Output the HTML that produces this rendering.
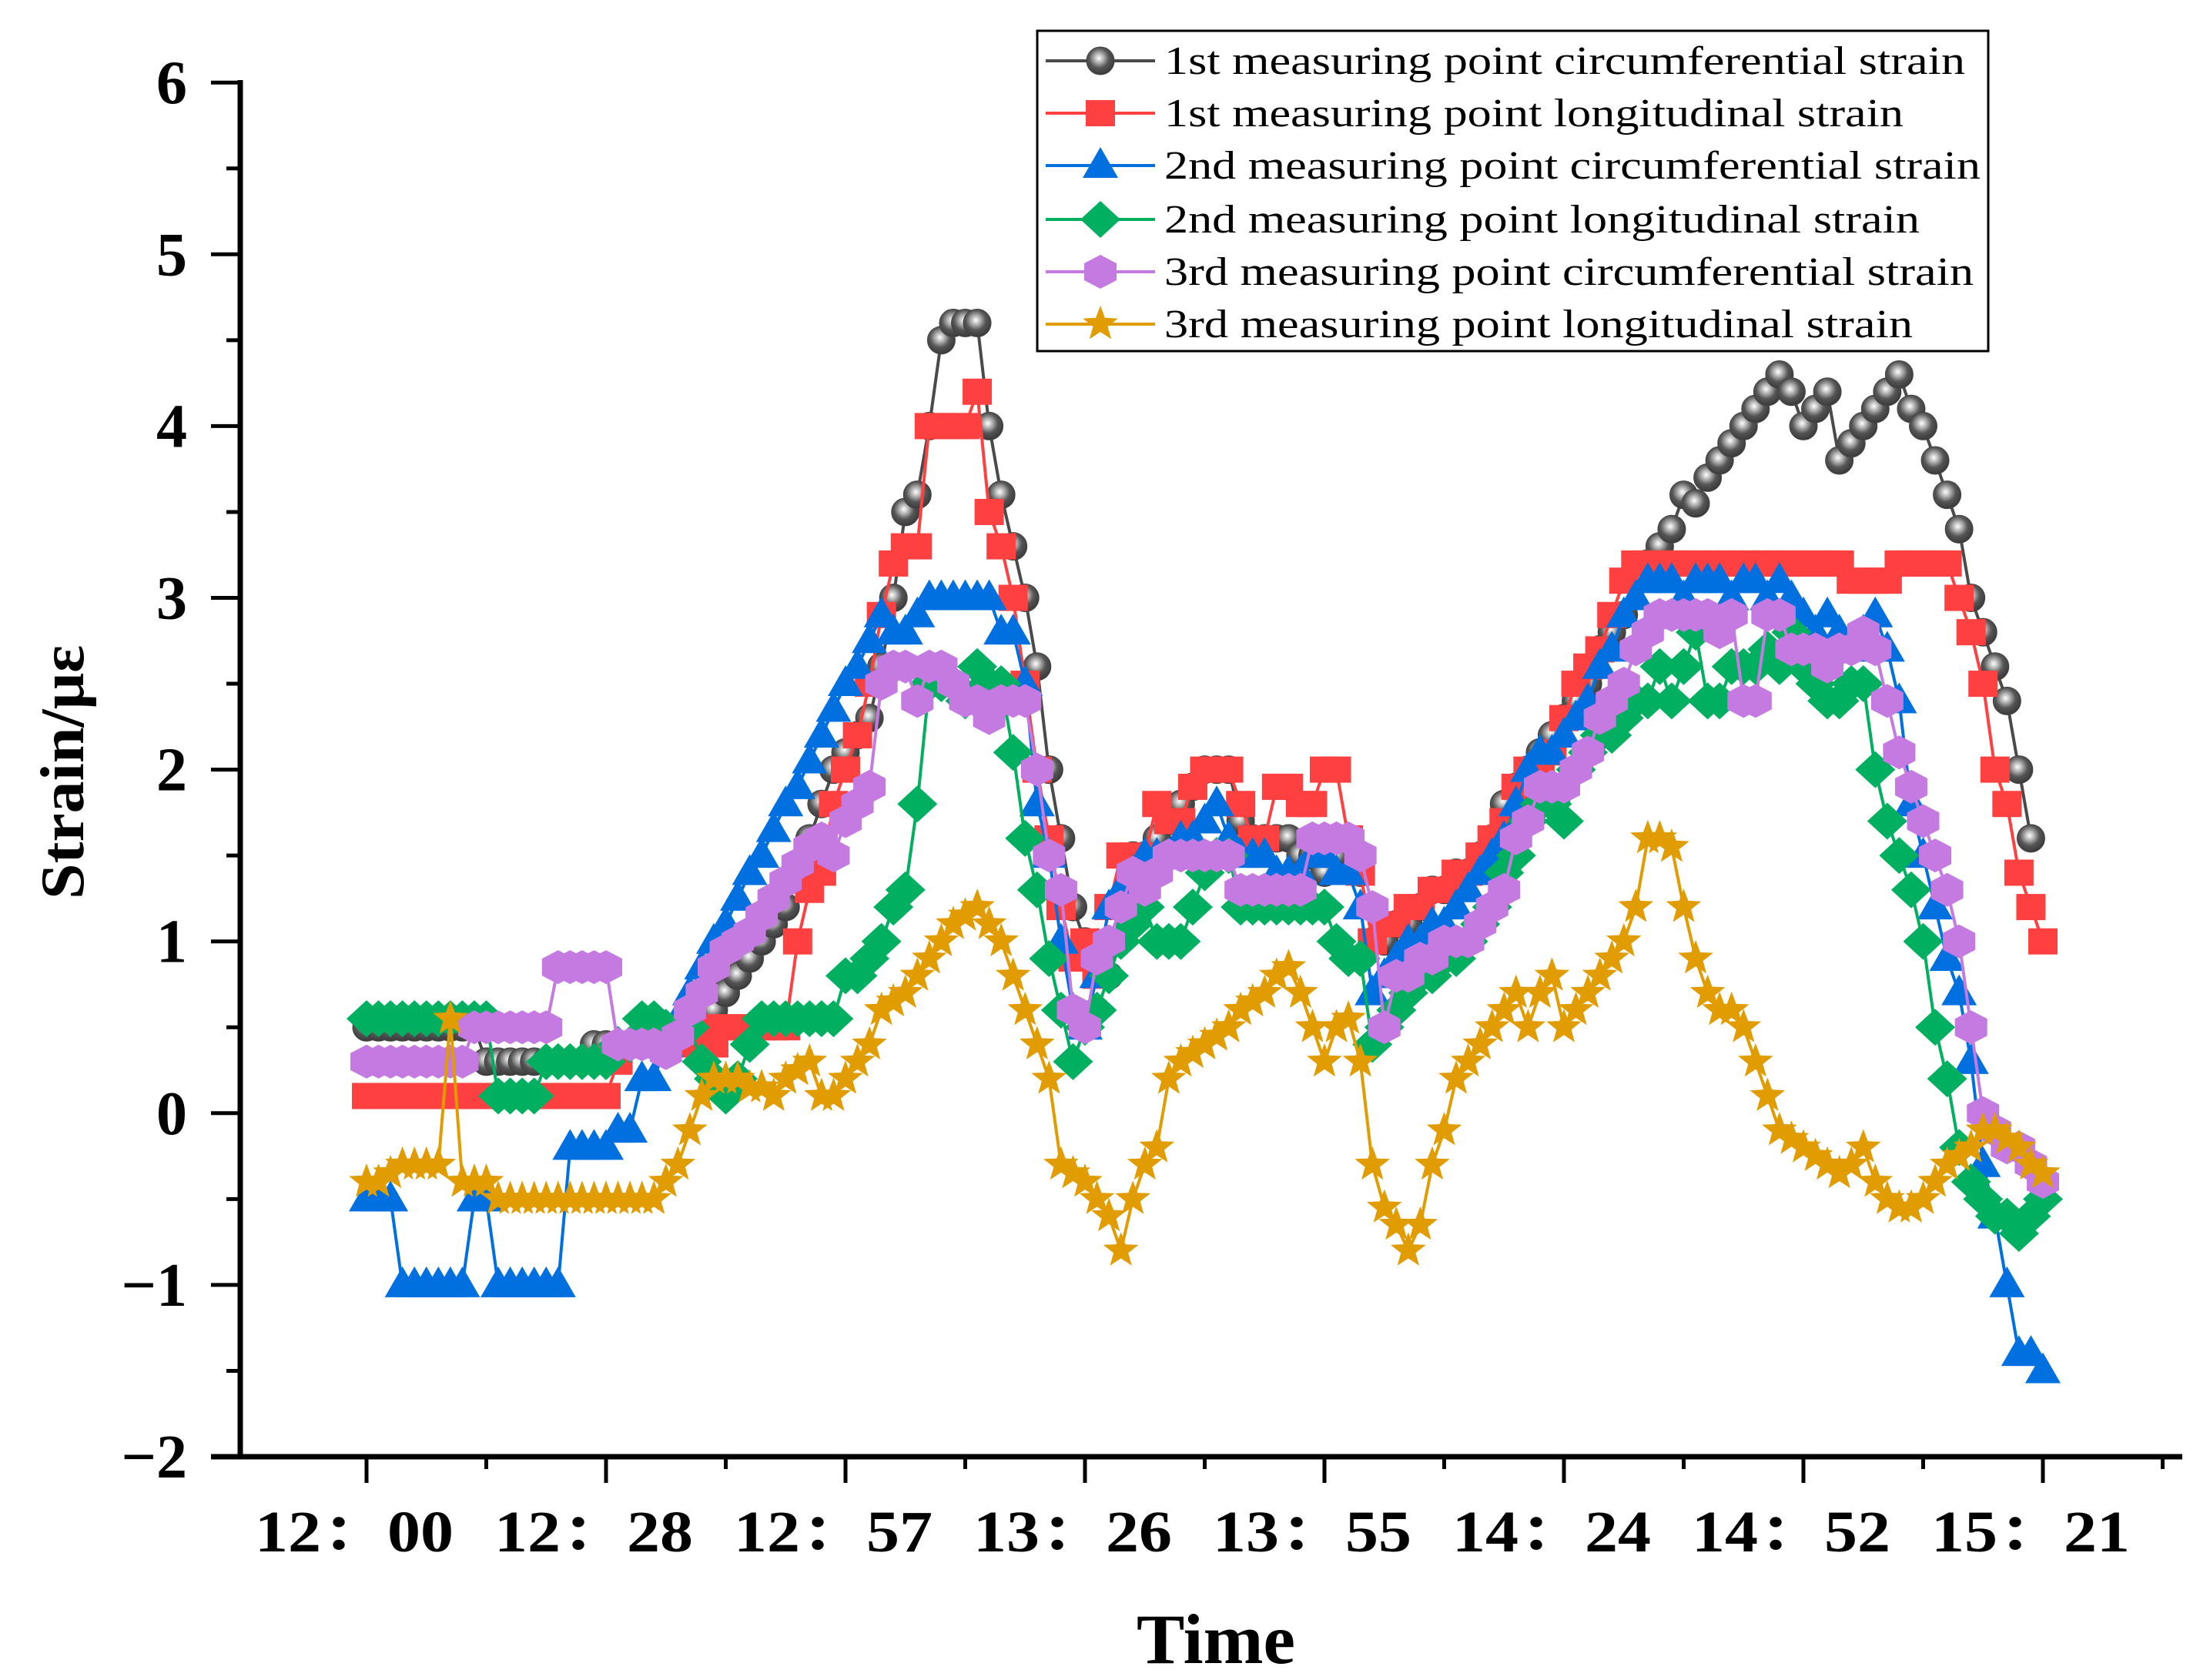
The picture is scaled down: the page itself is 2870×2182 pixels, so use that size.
<!DOCTYPE html>
<html><head><meta charset="utf-8"><style>
html,body{margin:0;padding:0;background:#fff;}
svg{display:block;}
text{font-family:"Liberation Serif","Noto Serif CJK SC","Noto Sans CJK SC",serif;}
</style></head><body>
<svg id="chart" width="2870" height="2182" viewBox="0 0 2870 2182" xmlns="http://www.w3.org/2000/svg">
<defs>
<radialGradient id="ballGrad" cx="0.45" cy="0.4" r="0.6">
<stop offset="0" stop-color="#ffffff"/><stop offset="0.25" stop-color="#bbbbbb"/><stop offset="0.6" stop-color="#555555"/><stop offset="1" stop-color="#3a3a3a"/>
</radialGradient>
</defs>
<g id="axes"></g>
<g id="series"></g>
<g id="legend"></g>
<text x="0" y="0" transform="translate(108,1003) rotate(-90)" text-anchor="middle" font-size="80" font-weight="bold" textLength="330" lengthAdjust="spacingAndGlyphs">Strain/με</text>
<text x="1579" y="2160" text-anchor="middle" font-size="92" font-weight="bold" textLength="206" lengthAdjust="spacingAndGlyphs">Time</text>
</svg>
<script>
const xTickLabels = ["12：00","12：28","12：57","13：26","13：55","14：24","14：52","15：21"];
const yTickValues = [-2,-1,0,1,2,3,4,5,6];
const seriesNames = ["1st measuring point circumferential strain","1st measuring point longitudinal strain","2nd measuring point circumferential strain","2nd measuring point longitudinal strain","3rd measuring point circumferential strain","3rd measuring point longitudinal strain"];
const circ1 = [0.5,0.5,0.5,0.5,0.5,0.5,0.5,0.5,0.5,0.5, 0.3,0.3,0.3,0.3,0.3,0.3,0.3,0.3,0.3, 0.4,0.4,0.4,0.4,0.4, 0.4,0.45,0.5,0.5,0.55,0.6,0.7,0.8,0.9,1.0,1.1,1.2,1.4,1.6,1.8,2.0, 2.1,2.2,2.3,2.6,3.0,3.5,3.6,4.0,4.5,4.6,4.6,4.6,4.0, 3.6,3.3,3.0,2.6,2.0,1.6,1.2,1.0, 0.9,0.8,1.2,1.5, 1.5,1.6,1.7,1.8,1.9,2.0,2.0,2.0, 1.7,1.6,1.6,1.6,1.6,1.5,1.5,1.4, 1.5,1.6,1.4,1.0, 1.0,1.1,1.1,1.2,1.3,1.3,1.4,1.4,1.5,1.6,1.8,1.9,2.0,2.1, 2.2,2.3,2.4,2.5,2.7,2.8,2.9,3.1,3.2,3.3,3.4,3.6, 3.55,3.7,3.8,3.9,4.0,4.1,4.2,4.3,4.2,4.0,4.1,4.2,3.8,3.9,4.0,4.1,4.2,4.3,4.1,4.0,3.8,3.6,3.4,3.0,2.8,2.6,2.4,2.0, 1.6];
const long1 = [0.1,0.1,0.1,0.1,0.1,0.1,0.1,0.1,0.1,0.1,0.1,0.1,0.1,0.1,0.1,0.1,0.1,0.1,0.1,0.1,0.1, 0.3,0.4,0.4,0.4,0.45,0.5, 0.4,0.5,0.4,0.5,0.5,0.5,0.5,0.5,0.5,1.0, 1.3,1.4,1.8,2.0,2.2,2.5,2.9,3.2,3.3,3.3,4.0,4.0,4.0,4.0,4.2,3.5, 3.3,3.0,2.5,2.0,1.6,1.2,0.9,1.0,0.8, 1.2,1.5,1.5,1.5,1.8,1.7,1.7,1.9,2.0,2.0,2.0, 1.8,1.6,1.6,1.9,1.9,1.8,1.8,2.0,2.0,1.6,1.4,1.0, 1.1,1.1,1.2,1.2,1.3,1.3,1.4,1.4,1.5,1.6,1.7,1.9,2.0,2.0,2.1,2.3,2.5,2.6,2.7,2.9,3.1, 3.2,3.2,3.2,3.2,3.2,3.2,3.2,3.2,3.2,3.2,3.2,3.2,3.2,3.2,3.2,3.2,3.2,3.2,3.1,3.1,3.1,3.1, 3.2,3.2,3.2,3.2,3.2,3.0,2.8, 2.5,2.0,1.8,1.4,1.2,1.0];
const circ2 = [-0.5,-0.5,-0.5, -1,-1,-1,-1,-1,-1, -0.5,-0.5, -1,-1,-1,-1,-1,-1, -0.2,-0.2,-0.2,-0.2, -0.1,-0.1, 0.2,0.2, 0.4,0.55,0.7,0.85,1.0,1.1,1.25,1.4,1.5,1.65,1.8,1.9,2.05,2.2,2.35,2.5,2.6,2.75,2.9, 2.8,2.8,2.9,3.0,3.0,3.0,3.0,3.0,3.0,2.8,2.8, 2.5,1.8,1.5,1.0,0.6,0.5,0.8, 1.2,1.3,1.4,1.5,1.5,1.5,1.6,1.6,1.7,1.8,1.6, 1.5,1.5,1.5,1.4,1.4,1.4,1.5,1.5,1.4,1.4,1.2,0.7, 0.8,0.9,1.0,1.0,1.1,1.1,1.2,1.3,1.4,1.5,1.6,1.8,2.0,2.1,2.1,2.2,2.3,2.4,2.6,2.7,2.9,3.0,3.1, 3.1,3.1,3.0,3.1,3.1,3.1,3.0,3.1,3.1,3.0,3.1,3.0,2.9,2.8,2.9,2.8,2.7,2.8,2.9,2.7, 2.4,1.8,1.5,1.2,0.9,0.7,0.3,-0.3,-0.6,-1.0,-1.4,-1.4,-1.5];
const long2 = [0.55,0.55,0.55,0.55,0.55,0.55,0.55,0.55,0.55,0.55,0.55, 0.1,0.1,0.1,0.1, 0.3,0.3,0.3,0.3,0.3,0.3, 0.4,0.4,0.55,0.55, 0.5,0.45,0.5,0.3,0.2,0.1,0.2,0.4, 0.55,0.55,0.55,0.55,0.55,0.55,0.55, 0.8,0.8,0.9,1.0,1.2,1.3,1.8,2.5,2.5,2.5,2.4,2.6,2.5, 2.5,2.1,1.6,1.3,0.9,0.6,0.3,0.5,0.6, 0.8,1.0,1.1,1.2,1.0,1.0,1.0,1.2,1.4,1.5,1.5, 1.2,1.2,1.2,1.2,1.2,1.2,1.2,1.2,1.0,0.9,0.9,0.4, 0.5,0.6,0.7,0.8,0.8,0.9,0.9,1.0,1.1,1.2,1.4,1.5,1.7,1.8,1.8,1.7,2.0,2.1,2.2,2.2,2.3,2.4,2.4, 2.6,2.4,2.6,2.8,2.4,2.4,2.6,2.6,2.6,2.7,2.6,2.8,2.6,2.5,2.4,2.4,2.5,2.5,2.0,1.7, 1.5,1.3,1.0,0.5,0.2,-0.2,-0.4,-0.5,-0.6,-0.6,-0.7,-0.6,-0.5];
const circ3 = [0.3,0.3,0.3,0.3,0.3,0.3,0.3,0.3,0.3, 0.5,0.5,0.5,0.5,0.5,0.5,0.5, 0.85,0.85,0.85,0.85,0.85, 0.4,0.4,0.4,0.4, 0.35,0.45,0.6,0.7,0.85,0.95,1.0,1.05,1.15,1.25,1.35,1.45,1.55,1.6, 1.5,1.7,1.8,1.9,2.5,2.6,2.6,2.4,2.6,2.6,2.5,2.4,2.4,2.3, 2.4,2.4,2.4,2.0,1.5,1.3,0.6,0.5,0.9, 1.0,1.2,1.4,1.3,1.4,1.5,1.5,1.5,1.5,1.5,1.5, 1.3,1.3,1.3,1.3,1.3,1.3,1.6,1.6,1.6,1.6,1.5,1.2, 0.5,0.8,0.8,0.9,0.9,1.0,1.0,1.0,1.1,1.2,1.3,1.6,1.7,1.9,1.9,1.9,2.0,2.1,2.3,2.4,2.5,2.7,2.8, 2.9,2.9,2.9,2.9,2.9,2.8,2.9,2.4,2.4,2.9,2.9,2.7,2.7,2.7,2.6,2.7,2.7,2.8,2.7,2.4, 2.1,1.9,1.7,1.5,1.3,1.0,0.5,0.0,-0.1,-0.2,-0.2,-0.3,-0.4];
const long3 = [-0.4,-0.4,-0.35,-0.3, -0.3,-0.3,-0.3, 0.55, -0.4,-0.4,-0.4, -0.5,-0.5,-0.5,-0.5,-0.5,-0.5,-0.5,-0.5,-0.5,-0.5,-0.5,-0.5,-0.5,-0.5, -0.4,-0.3,-0.1,0.1,0.2,0.2,0.2,0.15,0.15,0.1,0.2,0.25,0.3,0.1, 0.1,0.2,0.3,0.4,0.6,0.65,0.7,0.8,0.9,1.0,1.1,1.15,1.2,1.1, 1.0,0.8,0.6,0.4,0.2,-0.3,-0.35,-0.4,-0.5, -0.6,-0.8,-0.5,-0.3,-0.2,0.2,0.3,0.35,0.4,0.45,0.5, 0.6,0.65,0.7,0.8,0.85,0.7,0.5,0.3,0.5,0.55,0.3,-0.3, -0.55,-0.65,-0.8,-0.65,-0.3,-0.1,0.2,0.3,0.4,0.5,0.6,0.7,0.5,0.7,0.8,0.5,0.6,0.7,0.8,0.9,1.0,1.2,1.6, 1.6,1.55,1.2,0.9,0.7,0.6,0.6,0.5,0.3,0.1,-0.1,-0.15,-0.2,-0.25,-0.3,-0.35,-0.3,-0.2,-0.4,-0.5, -0.55,-0.55,-0.5,-0.4,-0.3,-0.25,-0.2,-0.1,-0.1,-0.15,-0.2,-0.3,-0.35];

const NS="http://www.w3.org/2000/svg";
const X0=476, STEP=311/20, Y0=1892, YU=223.1;
function xPos(i){return X0+i*STEP;}
function yPos(v){return Y0-(v+2)*YU;}
function mk(tag,attrs,parent){const e=document.createElementNS(NS,tag);for(const k in attrs)e.setAttribute(k,attrs[k]);parent.appendChild(e);return e;}

const axes=document.getElementById('axes');
let e;
e=mk('line',{x1:312,y1:104,x2:312,y2:1895,stroke:'#000','stroke-width':7},axes);


e=mk('line',{x1:274,y1:1892,x2:2834,y2:1892,stroke:'#000','stroke-width':7},axes);


yTickValues.forEach((v,k)=>{
  const y=yPos(v);
  e=mk('line',{x1:274,y1:y,x2:312,y2:y,stroke:'#000','stroke-width':5},axes);
  
  
  if(k<yTickValues.length-1){
    const ym=yPos(v+0.5);
    e=mk('line',{x1:294,y1:ym,x2:312,y2:ym,stroke:'#000','stroke-width':5},axes);
    
    
  }
  const t=mk('text',{x:243,y:y+27,'text-anchor':'end','font-size':80,'font-weight':'bold'},axes);
  t.textContent=(v<0?'\u2212':'')+Math.abs(v);
  
  
});
xTickLabels.forEach((lab,k)=>{
  const x=xPos(k*20);
  e=mk('line',{x1:x,y1:1892,x2:x,y2:1926,stroke:'#000','stroke-width':5},axes);
  
  
  const xm=xPos(k*20+10);
  if(xm<2834){
    e=mk('line',{x1:xm,y1:1892,x2:xm,y2:1908,stroke:'#000','stroke-width':5},axes);
    
    
  }
  const t=mk('text',{x:x-16,y:2015,'text-anchor':'middle','font-size':76,'font-weight':'bold',textLength:258,lengthAdjust:'spacingAndGlyphs'},axes);
  t.textContent=lab;
  
  
});

function star(cx,cy,r){let p=[];for(let i=0;i<10;i++){const a=-Math.PI/2+i*Math.PI/5;const rr=i%2?r*0.42:r;p.push((cx+rr*Math.cos(a)).toFixed(1)+','+(cy+rr*Math.sin(a)).toFixed(1));}return p.join(' ');}
function marker(type,cx,cy,g,color){
  let m;
  if(type==='circle'){m=mk('circle',{cx:cx,cy:cy,r:18,fill:'url(#ballGrad)',stroke:'#444','stroke-width':1},g);}
  else if(type==='square'){m=mk('rect',{x:cx-19,y:cy-17,width:38,height:34,fill:color},g);}
  else if(type==='triangle'){m=mk('polygon',{points:`${cx},${cy-24} ${cx+23},${cy+16} ${cx-23},${cy+16}`,fill:color},g);}
  else if(type==='diamond'){m=mk('polygon',{points:`${cx},${cy-24} ${cx+26},${cy} ${cx},${cy+24} ${cx-26},${cy}`,fill:color},g);}
  else if(type==='hexagon'){m=mk('polygon',{points:`${cx-21},${cy-11} ${cx},${cy-22} ${cx+21},${cy-11} ${cx+21},${cy+11} ${cx},${cy+22} ${cx-21},${cy+11}`,fill:color},g);}
  else {m=mk('polygon',{points:star(cx,cy,24),fill:color},g);}
  return m;
}
const seriesData=[circ1,long1,circ2,long2,circ3,long3];
const colors=['#4a4a4a','#ff4040','#0070e0','#00b060','#c47ae0','#e09c00'];
const markers=['circle','square','triangle','diamond','hexagon','star'];
const sKeys=['series-1st-circumferential','series-1st-longitudinal','series-2nd-circumferential','series-2nd-longitudinal','series-3rd-circumferential','series-3rd-longitudinal'];
const sl=document.getElementById('series');
seriesData.forEach((arr,s)=>{
  const g=mk('g',{},sl);
  
  
  const pts=arr.map((v,i)=>xPos(i).toFixed(1)+','+yPos(v).toFixed(1)).join(' ');
  const pl=mk('polyline',{points:pts,fill:'none',stroke:colors[s],'stroke-width':4},g);
  
  
  arr.forEach((v,i)=>{
    const m=marker(markers[s],xPos(i),yPos(v),g,colors[s]);
    
    
  });
});
const lg=document.getElementById('legend');
e=mk('rect',{x:1347,y:40,width:1235,height:416,fill:'#fff',stroke:'#000','stroke-width':3},lg);


const rowY=[79,147,215,285,353,421];
const textLens=[1040,960,1060,981,1051,972];
seriesNames.forEach((n,s)=>{
  const g=mk('g',{},lg);
  
  
  mk('line',{x1:1358,y1:rowY[s],x2:1500,y2:rowY[s],stroke:colors[s],'stroke-width':4},g);
  marker(markers[s],1429,rowY[s],g,colors[s]);
  const t=mk('text',{x:1512,y:rowY[s]+17,'font-size':52,textLength:textLens[s],lengthAdjust:'spacingAndGlyphs'},g);
  t.textContent=n;
  
  
});
</script>
</body></html>
